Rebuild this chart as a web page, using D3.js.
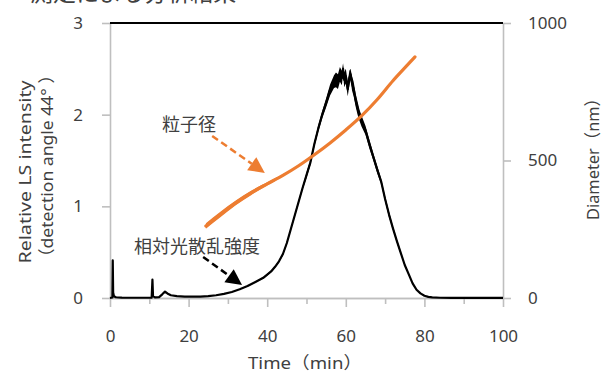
<!DOCTYPE html>
<html>
<head>
<meta charset="utf-8">
<script src="https://cdn.jsdelivr.net/npm/d3@7"></script>
<style>
  body { margin: 0; background: #fff; }
  text { font-family: "Noto Sans", "Noto Sans CJK JP", sans-serif; fill: #404040; }
  .jp { font-family: "Noto Sans CJK JP", sans-serif; }
</style>
</head>
<body>
<svg id="chart" width="603" height="374"></svg>
<script>
// light scattering intensity (left axis)
const lsTime = [0, 0.6, 0.7, 0.8, 1.0, 1.5, 3, 6, 10.6, 10.8, 10.95, 11.5, 12.5, 13.3, 14.0, 14.6, 15.5, 17, 19, 21, 23, 25, 27, 29, 31, 33, 35, 37, 39, 41, 42, 43, 44, 45, 46, 47, 48, 49, 50, 51, 52, 53, 54, 55, 56, 57, 57.5, 58, 58.5, 59, 59.3, 59.6, 60, 60.5, 60.9, 61.2, 61.6, 62, 62.5, 63, 63.5, 64, 65, 66, 67, 68, 69, 70, 71, 72, 73, 74, 75, 76, 77, 78, 79, 80, 81, 82, 84, 87, 90, 100];
const lsValue = [0, 0.005, 0.41, 0.06, 0.02, 0.008, 0.004, 0.003, 0.003, 0.2, 0.02, 0.006, 0.01, 0.04, 0.07, 0.05, 0.03, 0.02, 0.015, 0.014, 0.015, 0.02, 0.03, 0.045, 0.065, 0.095, 0.13, 0.175, 0.22, 0.29, 0.34, 0.40, 0.48, 0.60, 0.75, 0.90, 1.05, 1.20, 1.34, 1.48, 1.68, 1.85, 2.00, 2.13, 2.27, 2.36, 2.38, 2.36, 2.44, 2.40, 2.50, 2.38, 2.42, 2.28, 2.40, 2.44, 2.34, 2.28, 2.16, 2.07, 1.99, 1.93, 1.83, 1.68, 1.54, 1.40, 1.27, 1.08, 0.91, 0.76, 0.62, 0.49, 0.36, 0.26, 0.16, 0.09, 0.05, 0.025, 0.012, 0.006, 0.003, 0.002, 0.001, 0.001];
// half width of the noise band around the LS trace
const lsSpread = [0, 0, 0, 0, 0, 0, 0, 0, 0, 0, 0, 0, 0, 0, 0, 0, 0, 0, 0, 0, 0, 0, 0, 0, 0, 0, 0.005, 0.005, 0.01, 0.01, 0.01, 0.01, 0.015, 0.015, 0.015, 0.02, 0.02, 0.02, 0.03, 0.03, 0.03, 0.035, 0.04, 0.05, 0.06, 0.07, 0.08, 0.08, 0.08, 0.08, 0.06, 0.08, 0.08, 0.08, 0.08, 0.06, 0.08, 0.08, 0.07, 0.07, 0.06, 0.06, 0.05, 0.05, 0.04, 0.04, 0.03, 0.03, 0.03, 0.02, 0.02, 0.015, 0.01, 0.01, 0.005, 0.005, 0, 0, 0, 0, 0, 0, 0, 0];

// particle diameter (right axis)
const dTime = [24.4, 28, 32, 36, 40, 44, 48, 52, 56, 60, 64, 68, 72, 76, 77.6];
const dValue = [262, 303, 346, 383, 415, 446, 481, 521, 564, 611, 662, 722, 790, 852, 877];
// thickness of the scatter at the start of the diameter trace
const dSpread = [10, 10, 9, 8, 6, 4, 2, 1, 0, 0, 0, 0, 0, 0, 0];

const xTicks = [0, 20, 40, 60, 80, 100];
const xMinorTicks = [10, 30, 50, 70, 90];
const yLeftTicks = [0, 1, 2, 3];
const yRightTicks = [0, 500, 1000];

// annotation arrows: [tStart, valueStart, tEnd, valueEnd]
const diaArrow = [26, 589, 39.4, 455];
const lsArrow = [23.7, 0.447, 33.6, 0.142];

const svg = d3.select('#chart');
const x = d3.scaleLinear().domain([0, 100]).range([110, 503]);
const yL = d3.scaleLinear().domain([0, 3]).range([298, 23]);
const yR = d3.scaleLinear().domain([0, 1000]).range([298, 23]);
const grey = '#bfbfbf';
const orange = '#ed7d31';

// cut-off title at the very top
svg.append('text').attr('class', 'jp').attr('x', 30).attr('y', 1)
  .attr('font-size', 23).attr('fill', '#222').text('測定による分析結果');

// axes
function styleAxis(g) {
  g.select('.domain').attr('stroke', grey).attr('stroke-width', 1.6);
  g.selectAll('.tick line').attr('stroke', grey).attr('stroke-width', 1.6);
  g.selectAll('.tick text').attr('font-size', 17).attr('fill', '#404040')
    .attr('font-family', '"Noto Sans", sans-serif');
}
const fmt = d3.format('d');

svg.append('g').attr('transform', 'translate(0,298)')
  .call(d3.axisBottom(x).tickValues(xMinorTicks).tickSize(6).tickSizeOuter(0).tickFormat(''))
  .call(styleAxis);
svg.append('g').attr('transform', 'translate(0,298)')
  .call(d3.axisBottom(x).tickValues(xTicks).tickSize(9).tickSizeOuter(0).tickPadding(23).tickFormat(fmt))
  .call(styleAxis);
svg.append('g').attr('transform', 'translate(110,0)')
  .call(d3.axisLeft(yL).tickValues(yLeftTicks).tickSize(8).tickSizeOuter(0).tickPadding(19).tickFormat(fmt))
  .call(styleAxis);
svg.append('g').attr('transform', 'translate(503,0)')
  .call(d3.axisRight(yR).tickValues(yRightTicks).tickSize(8).tickSizeOuter(0).tickPadding(17).tickFormat(fmt))
  .call(styleAxis);

// top frame line
svg.append('line').attr('x1', x(0)).attr('x2', x(100)).attr('y1', yL(3)).attr('y2', yL(3))
  .attr('stroke', '#000').attr('stroke-width', 2);

// LS trace
const ls = lsTime.map((t, i) => ({ t, v: lsValue[i], s: lsSpread[i] }));
svg.append('path').datum(ls)
  .attr('d', d3.area().x(d => x(d.t)).y0(d => yL(d.v - d.s)).y1(d => yL(d.v + d.s)))
  .attr('fill', '#000');
svg.append('path').datum(ls)
  .attr('d', d3.line().x(d => x(d.t)).y(d => yL(d.v)))
  .attr('fill', 'none').attr('stroke', '#000').attr('stroke-width', 2.2).attr('stroke-linejoin', 'round');

// diameter trace
const dia = dTime.map((t, i) => ({ t, v: dValue[i], s: dSpread[i] }));
svg.append('path').datum(dia)
  .attr('d', d3.area().x(d => x(d.t)).y0(d => yR(d.v - d.s)).y1(d => yR(d.v + d.s)).curve(d3.curveMonotoneX))
  .attr('fill', orange);
svg.append('path').datum(dia)
  .attr('d', d3.line().x(d => x(d.t)).y(d => yR(d.v)).curve(d3.curveMonotoneX))
  .attr('fill', 'none').attr('stroke', orange).attr('stroke-width', 3.2).attr('stroke-linecap', 'round');

// annotations
function arrow(x1, y1, x2, y2, color) {
  const ang = Math.atan2(y2 - y1, x2 - x1);
  const len = 16, half = 8;
  const bx = x2 - len * Math.cos(ang), by = y2 - len * Math.sin(ang);
  svg.append('line').attr('x1', x1).attr('y1', y1).attr('x2', bx).attr('y2', by)
    .attr('stroke', color).attr('stroke-width', 2.5).attr('stroke-dasharray', '7,4');
  const px = -Math.sin(ang) * half, py = Math.cos(ang) * half;
  svg.append('path')
    .attr('d', `M${x2},${y2}L${bx + px},${by + py}L${bx - px},${by - py}Z`)
    .attr('fill', color);
}
arrow(x(diaArrow[0]), yR(diaArrow[1]), x(diaArrow[2]), yR(diaArrow[3]), orange);
arrow(x(lsArrow[0]), yL(lsArrow[1]), x(lsArrow[2]), yL(lsArrow[3]), '#000');

svg.append('text').attr('class', 'jp').attr('x', 189).attr('y', 131)
  .attr('text-anchor', 'middle').attr('font-size', 18).text('粒子径');
svg.append('text').attr('class', 'jp').attr('x', 197).attr('y', 253)
  .attr('text-anchor', 'middle').attr('font-size', 18).text('相対光散乱強度');

// axis titles
function title(tx, ty, rot, len, str) {
  svg.append('text').attr('transform', `translate(${tx},${ty}) rotate(${rot})`)
    .attr('text-anchor', 'middle').attr('font-size', 17)
    .attr('textLength', len).attr('lengthAdjust', 'spacingAndGlyphs').text(str);
}
title(31, 172, -90, 183, 'Relative LS intensity');
title(53, 166, -90, 200, '（detection angle  44°  ）');
title(599, 155, -90, 130, 'Diameter（nm）');
title(305, 369, 0, 114, 'Time（min）');
</script>
</body>
</html>
